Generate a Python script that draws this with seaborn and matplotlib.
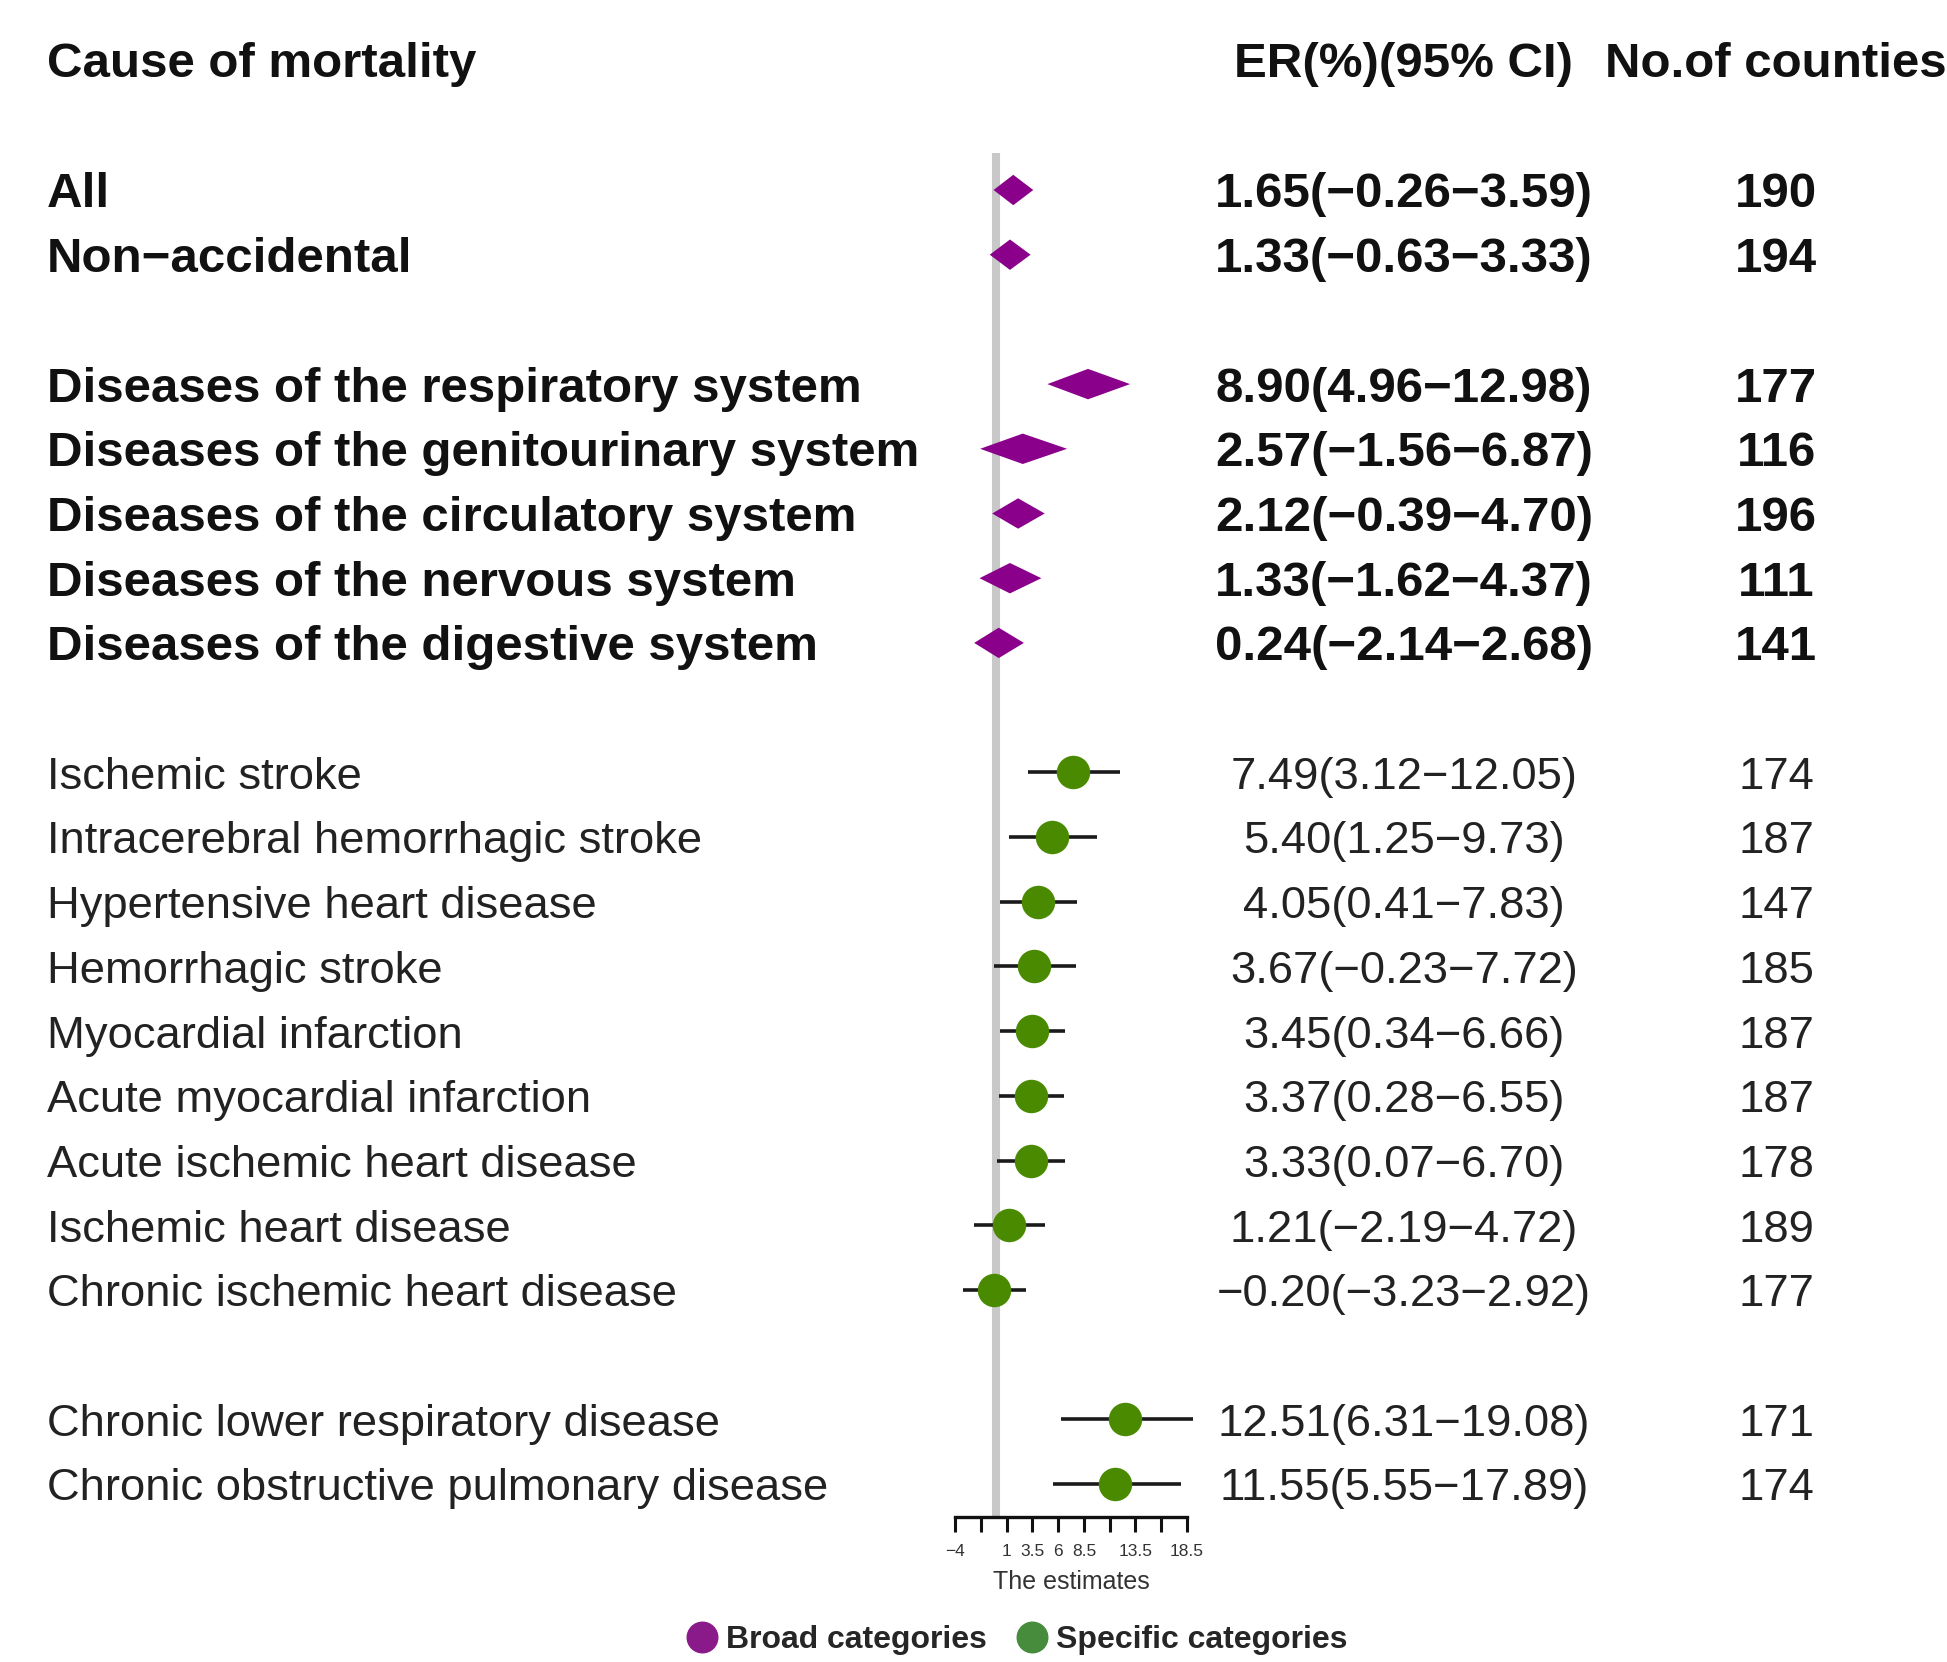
import numpy as np
import pandas as pd
import matplotlib
matplotlib.use("Agg")
import matplotlib.pyplot as plt
import matplotlib.transforms as mtransforms
from matplotlib.lines import Line2D
import seaborn as sns

# ---------------- data ----------------
causes = [
    "All", "Non\u2212accidental",
    "Diseases of the respiratory system", "Diseases of the genitourinary system",
    "Diseases of the circulatory system", "Diseases of the nervous system",
    "Diseases of the digestive system",
    "Ischemic stroke", "Intracerebral hemorrhagic stroke", "Hypertensive heart disease",
    "Hemorrhagic stroke", "Myocardial infarction", "Acute myocardial infarction",
    "Acute ischemic heart disease", "Ischemic heart disease", "Chronic ischemic heart disease",
    "Chronic lower respiratory disease", "Chronic obstructive pulmonary disease",
]
est = [1.65, 1.33, 8.90, 2.57, 2.12, 1.33, 0.24, 7.49, 5.40, 4.05, 3.67, 3.45, 3.37, 3.33, 1.21, -0.20, 12.51, 11.55]
lo = [-0.26, -0.63, 4.96, -1.56, -0.39, -1.62, -2.14, 3.12, 1.25, 0.41, -0.23, 0.34, 0.28, 0.07, -2.19, -3.23, 6.31, 5.55]
hi = [3.59, 3.33, 12.98, 6.87, 4.70, 4.37, 2.68, 12.05, 9.73, 7.83, 7.72, 6.66, 6.55, 6.70, 4.72, 2.92, 19.08, 17.89]
counties = [190, 194, 177, 116, 196, 111, 141, 174, 187, 147, 185, 187, 187, 178, 189, 177, 171, 174]
group = ["Broad categories"] * 7 + ["Specific categories"] * 11
block = [1, 1, 2, 2, 2, 2, 2, 3, 3, 3, 3, 3, 3, 3, 3, 3, 4, 4]

tick_values = [-4, -1.5, 1, 3.5, 6, 8.5, 11, 13.5, 16, 18.5]
tick_labels = ["\u22124", "", "1", "3.5", "6", "8.5", "", "13.5", "", "18.5"]

# ---------------- styles ----------------
sns.set_theme(style="white")
plt.rcParams["font.family"] = ["Liberation Sans", "DejaVu Sans"]

PURPLE = "#8b008b"
GREEN = "#4a8a00"
LEG_PURPLE = "#8a1a8a"
LEG_GREEN = "#468c3c"

df = pd.DataFrame({"cause": causes, "est": est, "lo": lo, "hi": hi,
                   "n": counties, "group": group, "block": block})
df["row"] = np.arange(len(df)) + (df["block"] - 1)
df["label"] = df.apply(lambda r: f"{r.est:.2f}({r.lo:.2f}\u2013{r.hi:.2f})", axis=1)
df["label"] = df["label"].str.replace("-", "\u2212").str.replace("\u2013", "\u2212")

W, H = 1947, 1662
fig = plt.figure(figsize=(W / 100, H / 100), dpi=100)

ax_left, ax_right = 955, 1187
ax_top, ax_bottom = 153, 1517
ax = fig.add_axes([ax_left / W, 1 - ax_bottom / H, (ax_right - ax_left) / W, (ax_bottom - ax_top) / H])
ax.set_facecolor("none")

row0_px, row_step = 190, 64.7
ax.set_xlim(-4, 18.5)
ax.set_ylim((ax_bottom - row0_px) / row_step, (ax_top - row0_px) / row_step)

# reference line
ax.axvline(0, color="#c8c8c8", lw=5.8, zorder=0)

broad = df[df.group == "Broad categories"]
spec = df[df.group == "Specific categories"]

# diamonds for broad categories
for _, r in broad.iterrows():
    h = 0.235
    ax.fill([r.lo, r.est, r.hi, r.est], [r.row, r.row - h, r.row, r.row + h],
            color=PURPLE, lw=0, zorder=3, clip_on=False)

# CI lines and points for specific categories
ax.hlines(spec["row"], spec["lo"], spec["hi"], color="#1a1a1a", lw=2.6, zorder=2, clip_on=False)
sns.scatterplot(data=spec, x="est", y="row", color=GREEN, s=580, linewidth=0,
                ax=ax, zorder=4, legend=False, clip_on=False)

ax.set_xlabel("")
ax.set_ylabel("")
ax.set_yticks([])
ax.set_xticks(tick_values)
ax.set_xticklabels(tick_labels, fontsize=12.5, color="#333333")
ax.tick_params(axis="x", direction="out", length=10.5, width=2.2, color="#111111", pad=9, bottom=True)
for s in ["top", "right", "left"]:
    ax.spines[s].set_visible(False)
ax.spines["bottom"].set_linewidth(2.4)
ax.spines["bottom"].set_color("#111111")

# ---------------- text columns ----------------
tr = mtransforms.blended_transform_factory(fig.transFigure, ax.transData)
name_x = 47 / W
er_x = 1404 / W
n_x = 1776 / W

for _, r in df.iterrows():
    bold = r.group == "Broad categories"
    fw = "bold" if bold else "normal"
    fs = 35.5 if bold else 32.7
    col = "#111111" if bold else "#222222"
    yb = r.row + (0.27 if bold else 0.255)
    fig.text(name_x, yb, r.cause, transform=tr, ha="left", va="baseline",
             fontsize=fs, fontweight=fw, color=col)
    fig.text(er_x, yb, r.label, transform=tr, ha="center", va="baseline",
             fontsize=fs, fontweight=fw, color=col)
    fig.text(n_x, yb, str(r.n), transform=tr, ha="center", va="baseline",
             fontsize=fs, fontweight=fw, color=col)

hy = -2 + 0.26
fig.text(name_x, hy, "Cause of mortality", transform=tr, ha="left", va="baseline",
         fontsize=35.5, fontweight="bold", color="#111111")
fig.text(er_x, hy, "ER(%)(95% CI)", transform=tr, ha="center", va="baseline",
         fontsize=35.5, fontweight="bold", color="#111111")
fig.text(n_x, hy, "No.of counties", transform=tr, ha="center", va="baseline",
         fontsize=35.5, fontweight="bold", color="#111111")

# axis title
fig.text((ax_left + ax_right) / 2 / W, 1 - 1582 / H, "The estimates", ha="center", va="center",
         fontsize=18, color="#333333")

# legend
handles = [Line2D([], [], marker="o", ls="", markersize=22, color=LEG_PURPLE),
           Line2D([], [], marker="o", ls="", markersize=22, color=LEG_GREEN)]
fig.legend(handles, ["Broad categories", "Specific categories"], loc="center",
           bbox_to_anchor=(1017 / W, 1 - 1640 / H), ncol=2, frameon=False,
           handletextpad=0.25, columnspacing=0.9, handlelength=1.0,
           prop={"weight": "bold", "size": 23})

fig.savefig("out.png", dpi=100)
